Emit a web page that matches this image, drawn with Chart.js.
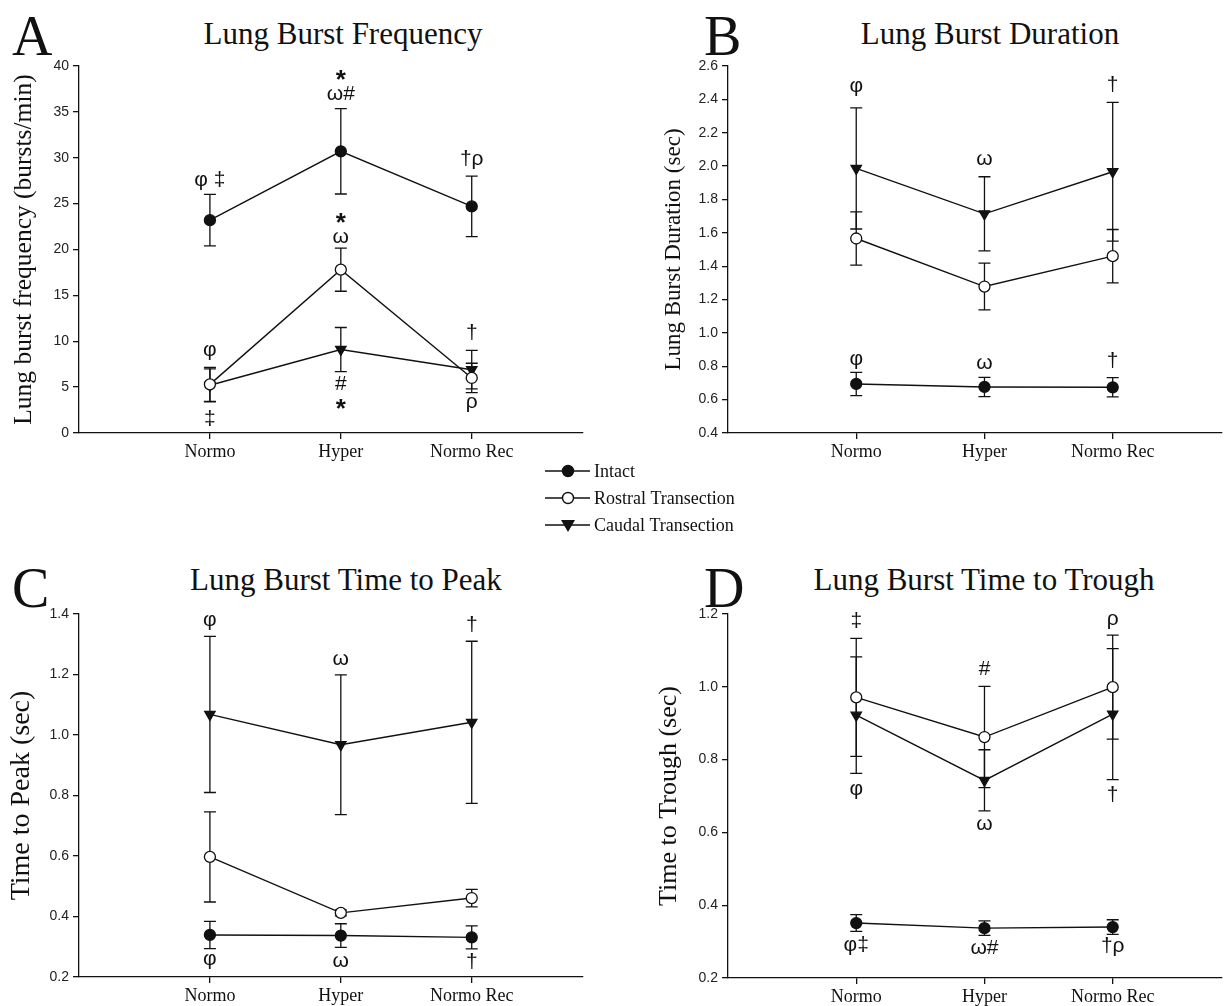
<!DOCTYPE html>
<html>
<head>
<meta charset="utf-8">
<script src="https://cdn.jsdelivr.net/npm/chart.js@4.4.1/dist/chart.umd.min.js"></script>
<style>
  body { margin: 0; background: #fff; width: 1229px; height: 1006px; position: relative; overflow: hidden; font-family: "Liberation Serif", serif; color: #111; }
  .panel { position: absolute; }
  .letter { position: absolute; font-size: 56px; line-height: 1; }
  .title { position: absolute; font-size: 31px; line-height: 1; white-space: nowrap; transform: translateX(-50%); }
  #legend { position: absolute; left: 540px; top: 456px; }
</style>
</head>
<body>

<div class="letter" style="left:12px; top:8px;">A</div>
<div class="title" style="left:343px; top:18px;">Lung Burst Frequency</div>
<div class="letter" style="left:704px; top:8px;">B</div>
<div class="title" style="left:990px; top:18px;">Lung Burst Duration</div>
<div class="letter" style="left:12px; top:560px;">C</div>
<div class="title" style="left:346px; top:564px;">Lung Burst Time to Peak</div>
<div class="letter" style="left:704px; top:560px;">D</div>
<div class="title" style="left:984px; top:564px;">Lung Burst Time to Trough</div>

<div class="panel" style="left:0; top:0; width:600px; height:470px;"><canvas id="chartA"></canvas></div>
<div class="panel" style="left:620px; top:0; width:609px; height:470px;"><canvas id="chartB"></canvas></div>
<div class="panel" style="left:0; top:560px; width:600px; height:446px;"><canvas id="chartC"></canvas></div>
<div class="panel" style="left:620px; top:560px; width:609px; height:446px;"><canvas id="chartD"></canvas></div>
<canvas id="legend" width="230" height="84"></canvas>

<script>
// categorias del eje x
const categories = ['Normo', 'Hyper', 'Normo Rec'];
const seriesNames = ['Intact', 'Rostral Transection', 'Caudal Transection'];

// A - frecuencia (bursts/min): media y error
const freqIntact = [23.2, 30.7, 24.7];
const freqIntactErr = [2.8, 4.65, 3.3];
const freqRostral = [5.3, 17.8, 6.0];
const freqRostralErr = [1.85, 2.35, 1.6];
const freqCaudal = [5.2, 9.1, 6.9];
const freqCaudalErr = [1.8, 2.4, 2.1];

// B - duracion (sec)
const durIntact = [0.694, 0.676, 0.674];
const durIntactErr = [0.07, 0.058, 0.058];
const durRostral = [1.566, 1.278, 1.46];
const durRostralErr = [0.16, 0.14, 0.16];
const durCaudal = [1.986, 1.714, 1.966];
const durCaudalErr = [0.363, 0.222, 0.416];

// C - tiempo al pico (sec)
const peakIntact = [0.339, 0.337, 0.331];
const peakIntactErr = [0.045, 0.039, 0.038];
const peakRostral = [0.597, 0.412, 0.461];
const peakRostralErr = [0.149, 0.01, 0.029];
const peakCaudal = [1.068, 0.968, 1.042];
const peakCaudalErr = [0.258, 0.231, 0.268];

// D - tiempo al valle (sec)
const troughIntact = [0.351, 0.337, 0.340];
const troughIntactErr = [0.023, 0.02, 0.02];
const troughRostral = [0.971, 0.862, 0.999];
const troughRostralErr = [0.162, 0.139, 0.143];
const troughCaudal = [0.922, 0.743, 0.925];
const troughCaudalErr = [0.16, 0.084, 0.18];

// marcas de significancia: [categoria, valor y, texto]
const freqMarks = [
  [0, 27.5, 'φ ‡'], [1, 38.8, '*'], [1, 36.9, 'ω#'], [2, 29.8, '†ρ'],
  [1, 23.2, '*'], [1, 21.3, 'ω'], [0, 9.0, 'φ'], [0, 1.5, '‡'],
  [1, 5.3, '#'], [1, 3.0, '*'], [2, 10.9, '†'], [2, 3.4, 'ρ']
];
const durMarks = [
  [0, 2.476, 'φ'], [1, 2.04, 'ω'], [2, 2.484, '†'],
  [0, 0.844, 'φ'], [1, 0.82, 'ω'], [2, 0.83, '†']
];
const peakMarks = [
  [0, 1.378, 'φ'], [1, 1.249, 'ω'], [2, 1.364, '†'],
  [0, 0.26, 'φ'], [1, 0.252, 'ω'], [2, 0.249, '†']
];
const troughMarks = [
  [0, 1.179, '‡'], [1, 1.049, '#'], [2, 1.186, 'ρ'],
  [0, 0.718, 'φ'], [1, 0.622, 'ω'], [2, 0.702, '†'],
  [0, 0.289, 'φ‡'], [1, 0.282, 'ω#'], [2, 0.288, '†ρ']
];

const INK = '#111';
const tickFont = { family: '"Liberation Sans", Arial, sans-serif', size: 14 };
const catFont = { family: '"Liberation Serif", serif', size: 18 };

// barras de error dibujadas con las escalas del grafico
const errorBars = {
  id: 'errorBars',
  beforeDatasetsDraw(chart) {
    const ctx = chart.ctx, xs = chart.scales.x, ys = chart.scales.y;
    ctx.save();
    ctx.strokeStyle = INK;
    ctx.lineWidth = 1.3;
    chart.data.datasets.forEach(ds => {
      ds.data.forEach((p, i) => {
        const x = xs.getPixelForValue(p.x);
        const hi = ys.getPixelForValue(p.y + ds.errors[i]);
        const lo = ys.getPixelForValue(p.y - ds.errors[i]);
        ctx.beginPath();
        ctx.moveTo(x, hi); ctx.lineTo(x, lo);
        ctx.moveTo(x - 6, hi); ctx.lineTo(x + 6, hi);
        ctx.moveTo(x - 6, lo); ctx.lineTo(x + 6, lo);
        ctx.stroke();
      });
    });
    ctx.restore();
  }
};

// simbolos de significancia
const marks = {
  id: 'marks',
  afterDatasetsDraw(chart, args, opts) {
    const ctx = chart.ctx, xs = chart.scales.x, ys = chart.scales.y;
    ctx.save();
    ctx.fillStyle = INK;
    ctx.textAlign = 'center';
    ctx.textBaseline = 'middle';
    (opts.list || []).forEach(m => {
      const star = m[2] === '*';
      ctx.font = star ? 'bold 26px "Liberation Sans", sans-serif' : '21px "Liberation Sans", sans-serif';
      ctx.fillText(m[2], xs.getPixelForValue(m[0] + 1), ys.getPixelForValue(m[1]) + (star ? 4 : 0));
    });
    ctx.restore();
  }
};

function points(vals) {
  return vals.map((v, i) => ({ x: i + 1, y: v }));
}

function makePanel(id, p) {
  const styles = [
    { pointStyle: 'circle', pointBackgroundColor: INK, pointRadius: 5.5, pointRotation: 0 },
    { pointStyle: 'circle', pointBackgroundColor: '#fff', pointRadius: 5.5, pointRotation: 0 },
    { pointStyle: 'triangle', pointBackgroundColor: INK, pointRadius: 6, pointRotation: 180 }
  ];
  const datasets = p.means.map((m, k) => Object.assign({
    label: seriesNames[k],
    data: points(m),
    errors: p.errs[k],
    borderColor: INK,
    borderWidth: 1.4,
    pointBorderColor: INK,
    pointBorderWidth: 1.3,
    pointHoverRadius: 5,
    tension: 0,
    fill: false
  }, styles[k]));

  return new Chart(document.getElementById(id), {
    type: 'line',
    data: { datasets: datasets },
    options: {
      responsive: true,
      maintainAspectRatio: false,
      animation: false,
      events: [],
      layout: { padding: { top: p.top, right: p.right, bottom: 0, left: 0 } },
      plugins: {
        legend: { display: false },
        tooltip: { enabled: false },
        marks: { list: p.marks }
      },
      scales: {
        x: {
          type: 'linear',
          min: 0,
          max: 3.85,
          afterBuildTicks: s => { s.ticks = [{ value: 1 }, { value: 2 }, { value: 3 }]; },
          afterFit: s => { s.height = p.xh; },
          ticks: { autoSkip: false, maxRotation: 0, padding: 2, color: INK, font: catFont,
                   callback: v => categories[v - 1] },
          grid: { drawOnChartArea: false, tickLength: 6, color: INK, lineWidth: 1.3 },
          border: { color: INK, width: 1.3 }
        },
        y: {
          min: p.ymin,
          max: p.ymax,
          afterFit: s => { s.width = p.yw; },
          ticks: { stepSize: p.step, padding: 4, color: '#222', font: tickFont,
                   callback: v => p.dec ? v.toFixed(1) : v },
          grid: { drawOnChartArea: false, tickLength: 6, color: INK, lineWidth: 1.3 },
          border: { color: INK, width: 1.3 },
          title: { display: true, text: p.ytitle, color: INK,
                   font: { family: '"Liberation Serif", serif', size: p.tsize },
                   padding: { top: p.tpad, bottom: 0 } }
        }
      }
    },
    plugins: [errorBars, marks]
  });
}

makePanel('chartA', {
  means: [freqIntact, freqRostral, freqCaudal],
  errs: [freqIntactErr, freqRostralErr, freqCaudalErr],
  marks: freqMarks, ymin: 0, ymax: 40, step: 5, dec: false,
  ytitle: 'Lung burst frequency (bursts/min)', tsize: 25.5, tpad: 9,
  top: 66, right: 17, xh: 37, yw: 79
});
makePanel('chartB', {
  means: [durIntact, durRostral, durCaudal],
  errs: [durIntactErr, durRostralErr, durCaudalErr],
  marks: durMarks, ymin: 0.4, ymax: 2.6, step: 0.2, dec: true,
  ytitle: 'Lung Burst Duration (sec)', tsize: 23, tpad: 40,
  top: 66, right: 1, xh: 37, yw: 108
});
makePanel('chartC', {
  means: [peakIntact, peakRostral, peakCaudal],
  errs: [peakIntactErr, peakRostralErr, peakCaudalErr],
  marks: peakMarks, ymin: 0.2, ymax: 1.4, step: 0.2, dec: true,
  ytitle: 'Time to Peak (sec)', tsize: 28, tpad: 5,
  top: 54, right: 17, xh: 29, yw: 79
});
makePanel('chartD', {
  means: [troughIntact, troughRostral, troughCaudal],
  errs: [troughIntactErr, troughRostralErr, troughCaudalErr],
  marks: troughMarks, ymin: 0.2, ymax: 1.2, step: 0.2, dec: true,
  ytitle: 'Time to Trough (sec)', tsize: 26, tpad: 34,
  top: 54, right: 1, xh: 28, yw: 108
});

// leyenda comun entre los paneles
(function drawLegend() {
  const ctx = document.getElementById('legend').getContext('2d');
  ctx.strokeStyle = INK;
  ctx.fillStyle = INK;
  ctx.lineWidth = 1.4;
  ctx.font = '18px "Liberation Serif", serif';
  ctx.textBaseline = 'middle';
  seriesNames.forEach((name, k) => {
    const y = 15 + k * 27;
    ctx.beginPath(); ctx.moveTo(5, y); ctx.lineTo(50, y); ctx.stroke();
    ctx.beginPath();
    if (k === 2) {
      ctx.moveTo(21, y - 5); ctx.lineTo(35, y - 5); ctx.lineTo(28, y + 7); ctx.closePath();
      ctx.fillStyle = INK; ctx.fill();
    } else {
      ctx.arc(28, y, 5.5, 0, Math.PI * 2);
      ctx.fillStyle = k === 0 ? INK : '#fff';
      ctx.fill(); ctx.stroke();
    }
    ctx.fillStyle = INK;
    ctx.fillText(name, 54, y + 1);
  });
})();
</script>
</body>
</html>
